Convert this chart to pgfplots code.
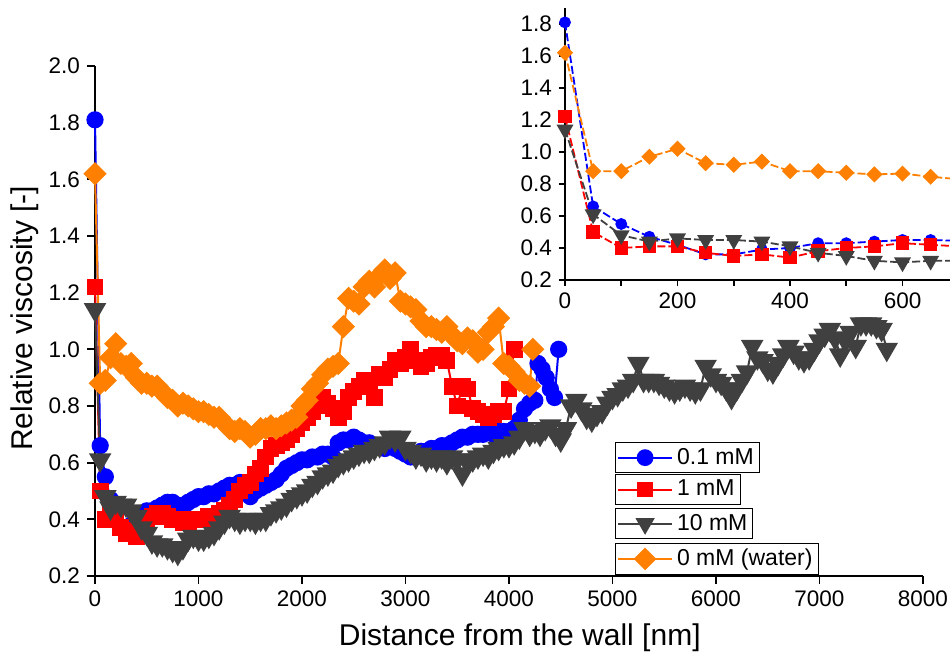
\documentclass[border=0pt]{standalone}
\usepackage{fontspec}
\setmainfont{Liberation Sans}
\usepackage{pgfplots}
\pgfplotsset{compat=1.18}
\definecolor{cblue}{RGB}{0,0,255}
\definecolor{cred}{RGB}{255,0,0}
\definecolor{cgray}{RGB}{64,64,64}
\definecolor{corange}{RGB}{255,128,0}
\newcommand\tickfont{\fontsize{11.25}{13}\selectfont}
\newcommand\labfont{\fontsize{15}{18}\selectfont}
\newcommand\legfont{\fontsize{11.5}{13}\selectfont}

\pgfplotsset{
  originax/.style={
    scale only axis, axis x line=bottom, axis y line=left,
    axis line style={-, line width=1.1pt},
    tick style={line width=0.9pt, black},
    tick align=outside,
    ticklabel style={font=\tickfont},
    /pgf/number format/assume math mode=true,
    clip=false,
  },
  legax/.style={
    at={(47.5pt,40.5pt)}, anchor=south west, width=414pt, height=255pt,
    scale only axis, hide axis, xmin=0, xmax=1, ymin=0, ymax=1,
    legend image code/.code={
      \draw[##1, mark=none, solid] (0pt,0pt) -- (27pt,0pt);
      \draw[##1, only marks] plot coordinates {(13.5pt,0pt)};
    },
    legend style={anchor=north west, draw=black, line width=0.5pt,
      inner sep=0.8pt, font=\legfont},
  },
}

\begin{document}
\begin{tikzpicture}
\useasboundingbox (0,0) rectangle (475pt,328.5pt);

% ---------------- main axis ----------------
\begin{axis}[originax,
  at={(47.5pt,40.5pt)}, anchor=south west, width=414pt, height=255pt,
  xmin=0, xmax=8000, ymin=0.2, ymax=2.0,
  major tick length=4pt,
  xtick={0,1000,2000,3000,4000,5000,6000,7000,8000},
  ytick={0.2,0.4,0.6,0.8,1.0,1.2,1.4,1.6,1.8,2.0},
  scaled x ticks=false,
  xticklabel style={/pgf/number format/.cd, set thousands separator={}},
  yticklabel style={/pgf/number format/.cd, fixed, fixed zerofill, precision=1},
  xlabel={Distance from the wall [nm]},
  ylabel={Relative viscosity [-]},
  every axis x label/.style={at={(axis description cs:0.513,-0.122)}, anchor=center, font=\labfont},
  every axis y label/.style={at={(axis description cs:-0.0845,0.505)}, anchor=center, rotate=90, font=\labfont},
]
% 0.1 mM
\addplot[cblue, line width=1pt, mark=*, mark size=3.8pt, mark options={draw=cblue, fill=cblue}] table {
0 1.81
50 0.66
100 0.55
150 0.47
200 0.42
250 0.37
300 0.36
350 0.38
400 0.40
450 0.42
500 0.43
550 0.43
600 0.44
650 0.45
700 0.46
750 0.46
800 0.45
850 0.44
900 0.46
950 0.47
1000 0.48
1050 0.48
1100 0.49
1150 0.49
1200 0.50
1250 0.51
1300 0.52
1350 0.52
1400 0.53
1450 0.52
1500 0.48
1550 0.50
1600 0.51
1650 0.52
1700 0.53
1750 0.54
1800 0.56
1850 0.58
1900 0.59
1950 0.60
2000 0.61
2050 0.61
2100 0.62
2150 0.62
2200 0.63
2250 0.63
2300 0.62
2350 0.67
2400 0.68
2450 0.68
2500 0.69
2550 0.68
2600 0.67
2650 0.67
2700 0.66
2750 0.66
2800 0.65
2850 0.66
2900 0.65
2950 0.64
3000 0.63
3050 0.62
3100 0.63
3150 0.64
3200 0.64
3250 0.65
3300 0.65
3350 0.66
3400 0.66
3450 0.67
3500 0.68
3550 0.69
3600 0.69
3650 0.70
3700 0.70
3750 0.70
3800 0.71
3850 0.70
3900 0.71
3950 0.71
4000 0.71
4050 0.72
4100 0.75
4150 0.79
4200 0.81
4250 0.82
4280 0.95
4320 0.93
4360 0.90
4400 0.86
4440 0.83
4480 1.00
};
% 1 mM
\addplot[cred, line width=1pt, mark=square*, mark size=3.7pt, mark options={draw=cred, fill=cred}] table {
0 1.22
50 0.50
100 0.40
150 0.41
200 0.41
250 0.37
300 0.35
350 0.36
400 0.34
450 0.38
500 0.40
550 0.41
600 0.42
650 0.42
700 0.41
750 0.40
800 0.40
850 0.39
900 0.39
950 0.40
1000 0.40
1050 0.40
1100 0.41
1150 0.41
1200 0.42
1250 0.43
1300 0.45
1350 0.47
1400 0.50
1450 0.52
1500 0.53
1550 0.56
1600 0.58
1650 0.62
1700 0.65
1750 0.66
1800 0.67
1850 0.68
1900 0.70
1950 0.72
2000 0.74
2050 0.76
2100 0.78
2150 0.80
2200 0.83
2250 0.81
2300 0.79
2350 0.76
2400 0.78
2450 0.83
2500 0.85
2550 0.87
2600 0.89
2650 0.88
2700 0.83
2750 0.91
2800 0.90
2850 0.93
2900 0.96
2950 0.95
3000 0.97
3050 1.00
3100 0.96
3150 0.94
3200 0.95
3250 0.97
3300 0.98
3350 0.98
3400 0.96
3450 0.87
3500 0.80
3550 0.87
3600 0.86
3650 0.79
3700 0.78
3750 0.77
3800 0.76
3850 0.77
3900 0.78
3950 0.78
4000 0.86
4050 1.00
};
% 10 mM
\addplot[cgray, line width=1pt, mark=triangle*, mark size=5.5pt, mark options={draw=cgray, fill=cgray, rotate=180}] table {
0 1.14
50 0.61
100 0.48
150 0.44
200 0.46
250 0.45
300 0.45
350 0.43
400 0.41
450 0.37
500 0.35
550 0.32
600 0.31
650 0.31
700 0.30
750 0.29
800 0.28
850 0.30
900 0.33
950 0.34
1000 0.33
1050 0.33
1100 0.34
1150 0.35
1200 0.37
1250 0.39
1300 0.41
1350 0.40
1400 0.39
1450 0.40
1500 0.40
1550 0.39
1600 0.40
1650 0.40
1700 0.42
1750 0.43
1800 0.44
1850 0.45
1900 0.47
1950 0.48
2000 0.49
2050 0.50
2100 0.52
2150 0.53
2200 0.55
2250 0.56
2300 0.57
2350 0.59
2400 0.60
2450 0.61
2500 0.62
2550 0.63
2600 0.64
2650 0.64
2700 0.65
2750 0.66
2800 0.67
2850 0.69
2900 0.68
2950 0.69
3000 0.65
3050 0.64
3100 0.62
3150 0.63
3200 0.61
3250 0.62
3300 0.61
3350 0.62
3400 0.60
3450 0.62
3500 0.61
3550 0.56
3600 0.60
3650 0.61
3700 0.62
3750 0.63
3800 0.62
3850 0.64
3900 0.65
3950 0.66
4000 0.66
4050 0.67
4100 0.69
4150 0.72
4200 0.70
4250 0.71
4300 0.70
4350 0.72
4400 0.73
4450 0.70
4500 0.68
4550 0.72
4600 0.80
4650 0.82
4700 0.79
4750 0.76
4800 0.75
4850 0.77
4900 0.78
4950 0.81
5000 0.83
5050 0.84
5100 0.86
5150 0.87
5200 0.89
5250 0.95
5300 0.89
5350 0.89
5400 0.89
5450 0.88
5500 0.87
5550 0.86
5600 0.85
5650 0.86
5700 0.87
5750 0.86
5800 0.85
5850 0.86
5900 0.94
5950 0.91
6000 0.89
6050 0.88
6100 0.86
6150 0.83
6200 0.86
6250 0.89
6300 0.92
6350 1.01
6400 0.97
6450 0.96
6500 0.93
6550 0.92
6600 0.95
6650 0.98
6700 1.01
6750 0.99
6800 0.97
6850 0.96
6900 0.97
6950 1.00
7000 1.03
7050 1.05
7100 1.07
7150 1.04
7200 0.98
7250 1.03
7300 1.06
7350 1.01
7400 1.09
7450 1.09
7500 1.09
7550 1.08
7600 1.07
7650 1.00
};
% 0 mM (water)
\addplot[corange, line width=1pt, mark=square*, mark size=3.6pt, mark options={draw=corange, fill=corange, rotate=45}] table {
0 1.62
50 0.88
100 0.89
150 0.97
200 1.02
250 0.95
300 0.94
350 0.95
400 0.90
450 0.88
500 0.88
550 0.87
600 0.87
650 0.85
700 0.83
750 0.82
800 0.80
850 0.81
900 0.80
950 0.79
1000 0.78
1050 0.78
1100 0.77
1150 0.76
1200 0.76
1250 0.74
1300 0.72
1350 0.71
1400 0.72
1450 0.71
1500 0.69
1550 0.70
1600 0.72
1650 0.72
1700 0.73
1750 0.72
1800 0.73
1850 0.74
1900 0.75
1950 0.76
2000 0.80
2050 0.82
2100 0.86
2150 0.88
2200 0.91
2250 0.93
2300 0.94
2350 0.95
2400 1.08
2450 1.18
2500 1.17
2550 1.16
2600 1.22
2650 1.24
2700 1.22
2750 1.26
2800 1.28
2850 1.25
2900 1.27
2950 1.17
3000 1.16
3050 1.15
3100 1.14
3150 1.10
3200 1.08
3250 1.08
3300 1.07
3350 1.06
3400 1.08
3450 1.05
3500 1.03
3550 1.02
3600 1.04
3650 1.03
3700 0.99
3750 1.00
3800 1.06
3850 1.08
3900 1.11
3950 0.95
4000 0.94
4050 0.92
4100 0.89
4150 0.88
4200 0.87
4230 1.00
};
\end{axis}

% ---------------- inset ----------------
\begin{axis}[originax,
  at={(282.5pt,188.5pt)}, anchor=south west, width=192.5pt, height=136pt,
  xmin=0, xmax=684.4, ymin=0.2, ymax=1.9,
  major tick length=3pt, minor tick length=3pt,
  xtick={0,200,400,600}, minor xtick={100,300,500},
  ytick={0.2,0.4,0.6,0.8,1.0,1.2,1.4,1.6,1.8},
  yticklabel style={/pgf/number format/.cd, fixed, fixed zerofill, precision=1},
]
\addplot[cblue, line width=0.9pt, dash pattern=on 4pt off 1.5pt, mark=*, mark size=2.5pt, mark options={solid, draw=cblue, fill=cblue}] table {
0 1.81
50 0.66
100 0.55
150 0.47
200 0.42
250 0.36
300 0.36
350 0.39
400 0.40
450 0.43
500 0.43
550 0.44
600 0.45
650 0.45
700 0.445
};
\addplot[cred, line width=0.9pt, dash pattern=on 4pt off 1.5pt, mark=square*, mark size=2.9pt, mark options={solid, draw=cred, fill=cred}] table {
0 1.22
50 0.50
100 0.40
150 0.41
200 0.41
250 0.37
300 0.35
350 0.36
400 0.34
450 0.38
500 0.40
550 0.41
600 0.43
650 0.42
700 0.41
};
\addplot[cgray, line width=0.9pt, dash pattern=on 4pt off 1.5pt, mark=triangle*, mark size=4pt, mark options={solid, draw=cgray, fill=cgray, rotate=180}] table {
0 1.14
50 0.61
100 0.48
150 0.44
200 0.46
250 0.45
300 0.45
350 0.44
400 0.41
450 0.37
500 0.35
550 0.32
600 0.31
650 0.32
700 0.32
};
\addplot[corange, line width=0.9pt, dash pattern=on 4pt off 1.5pt, mark=square*, mark size=2.4pt, mark options={solid, draw=corange, fill=corange, rotate=45}] table {
0 1.62
50 0.88
100 0.88
150 0.97
200 1.02
250 0.93
300 0.92
350 0.94
400 0.88
450 0.88
500 0.87
550 0.86
600 0.865
650 0.845
700 0.83
};
\end{axis}

% ---------------- legend boxes ----------------
\begin{axis}[legax, legend style={at={(0.628,0.2627)}}]
\addplot[draw=none, forget plot] coordinates {(0,0)};
\addlegendimage{cblue, line width=1pt, mark=*, mark size=3.7pt, mark options={draw=cblue, fill=cblue}}
\addlegendentry{0.1 mM}
\end{axis}
\begin{axis}[legax, legend style={at={(0.628,0.2)}}]
\addplot[draw=none, forget plot] coordinates {(0,0)};
\addlegendimage{cred, line width=1pt, mark=square*, mark size=3.3pt, mark options={draw=cred, fill=cred}}
\addlegendentry{1 mM}
\end{axis}
\begin{axis}[legax, legend style={at={(0.628,0.1333)}}]
\addplot[draw=none, forget plot] coordinates {(0,0)};
\addlegendimage{cgray, line width=1pt, mark=triangle*, mark size=4.6pt, mark options={draw=cgray, fill=cgray, rotate=180}}
\addlegendentry{10 mM}
\end{axis}
\begin{axis}[legax, legend style={at={(0.628,0.0647)}}]
\addplot[draw=none, forget plot] coordinates {(0,0)};
\addlegendimage{corange, line width=1pt, mark=square*, mark size=3.5pt, mark options={draw=corange, fill=corange, rotate=45}}
\addlegendentry{0 mM (water)}
\end{axis}
\end{tikzpicture}
\end{document}
